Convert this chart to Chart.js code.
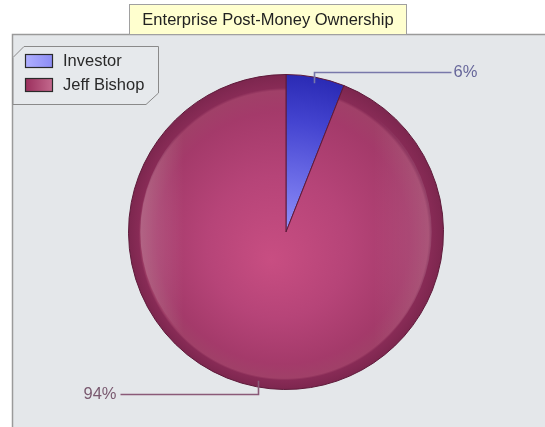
<!DOCTYPE html>
<html>
<head>
<meta charset="utf-8">
<script src="https://cdn.jsdelivr.net/npm/chart.js@4"></script>
<style>
  html, body { margin: 0; padding: 0; background: #ffffff; }
  #wrap { position: relative; width: 545px; height: 427px; }
  canvas { display: block; }
</style>
</head>
<body>
<div id="wrap"><canvas id="c" width="545" height="427"></canvas></div>
<script>
const chartTitle = 'Enterprise Post-Money Ownership';
const categories = ['Investor', 'Jeff Bishop'];
const shares = [6, 94];
const valueLabels = ['6%', '94%'];

const FONT = '"Liberation Sans", Arial, sans-serif';

function sliceFill(c, idx) {
  const chart = c.chart;
  const area = chart.chartArea;
  if (!area) return idx === 0 ? '#4444d0' : '#a03a68';
  const cx = (area.left + area.right) / 2;
  const cy = (area.top + area.bottom) / 2;
  const R = Math.min(area.right - area.left, area.bottom - area.top) / 2;
  let g;
  if (idx === 0) {
    g = chart.ctx.createRadialGradient(cx, cy, 0, cx, cy, R);
    g.addColorStop(0, '#9090fa');
    g.addColorStop(0.35, '#6a6ae6');
    g.addColorStop(0.7, '#4444d0');
    g.addColorStop(1, '#2a2ab4');
  } else {
    g = chart.ctx.createRadialGradient(cx - 15, cy + 28, 0, cx, cy, R);
    g.addColorStop(0, '#c84e82');
    g.addColorStop(0.45, '#b64478');
    g.addColorStop(0.8, '#a43a6a');
    g.addColorStop(0.91, '#a04068');
    g.addColorStop(0.925, '#882b56');
    g.addColorStop(1, '#7c264e');
  }
  return g;
}

const decor = {
  id: 'decor',
  beforeDraw(chart) {
    const ctx = chart.ctx;
    ctx.save();
    ctx.fillStyle = '#e4e7ea';
    ctx.fillRect(12.5, 34.5, 545, 400);
    ctx.strokeStyle = '#9a9a9a';
    ctx.lineWidth = 1.5;
    ctx.beginPath();
    ctx.moveTo(12.5, 430); ctx.lineTo(12.5, 34.5); ctx.lineTo(546, 34.5);
    ctx.stroke();
    ctx.fillStyle = '#ffffcf';
    ctx.fillRect(129.5, 4.5, 277, 30);
    ctx.strokeStyle = '#a0a0a0';
    ctx.lineWidth = 1;
    ctx.strokeRect(129.5, 4.5, 277, 30);
    ctx.fillStyle = '#222222';
    ctx.font = '16.5px ' + FONT;
    ctx.textAlign = 'center';
    ctx.textBaseline = 'middle';
    ctx.fillText(chartTitle, 268, 20);
    ctx.fillStyle = '#e6e9ec';
    ctx.strokeStyle = '#8a8a8a';
    ctx.beginPath();
    ctx.moveTo(13, 57.5);
    ctx.lineTo(24, 46.5);
    ctx.lineTo(158.5, 46.5);
    ctx.lineTo(158.5, 93);
    ctx.lineTo(146, 104.5);
    ctx.lineTo(13, 104.5);
    ctx.closePath();
    ctx.fill();
    ctx.stroke();
    const sw = [
      ['#b0b0ff', '#8c8cf4'],
      ['#9a2e5c', '#c46a8e']
    ];
    ctx.font = '16.5px ' + FONT;
    ctx.textAlign = 'left';
    ctx.textBaseline = 'middle';
    categories.forEach((name, i) => {
      const y = 54 + i * 24;
      const g = ctx.createLinearGradient(25, 0, 53, 0);
      g.addColorStop(0, sw[i][0]);
      g.addColorStop(1, sw[i][1]);
      ctx.fillStyle = g;
      ctx.fillRect(25.5, y + 0.5, 27, 13);
      ctx.strokeStyle = '#2a2a2a';
      ctx.lineWidth = 1.2;
      ctx.strokeRect(25.5, y + 0.5, 27, 13);
      ctx.fillStyle = '#2a2a2a';
      ctx.fillText(name, 63, y + 7.5);
    });
    ctx.restore();
  },
  afterDatasetsDraw(chart) {
    const ctx = chart.ctx;
    const meta = chart.getDatasetMeta(0);
    const arc0 = meta.data[0];
    const cx = arc0.x, cy = arc0.y, R = arc0.outerRadius;
    ctx.save();
    ctx.beginPath();
    ctx.arc(cx, cy, R * 0.925, 0, Math.PI * 2);
    ctx.clip();
    const gl = ctx.createLinearGradient(cx - R, 0, cx - R + 55, 0);
    gl.addColorStop(0, 'rgba(255,255,255,0.24)');
    gl.addColorStop(1, 'rgba(255,255,255,0)');
    ctx.fillStyle = gl;
    ctx.fillRect(cx - R, cy - R, 55, 2 * R);
    const gr = ctx.createLinearGradient(cx + R, 0, cx + R - 70, 0);
    gr.addColorStop(0, 'rgba(255,255,255,0.14)');
    gr.addColorStop(1, 'rgba(255,255,255,0)');
    ctx.fillStyle = gr;
    ctx.fillRect(cx + R - 70, cy - R, 70, 2 * R);
    ctx.restore();

    ctx.save();
    const colors = [['#7878aa', '#66669a'], ['#8a5a78', '#7a5a70']];
    meta.data.forEach((arc, i) => {
      const p = arc.getProps(['x', 'y', 'startAngle', 'endAngle', 'outerRadius'], true);
      const mid = (p.startAngle + p.endAngle) / 2;
      const ax = p.x + Math.cos(mid) * (p.outerRadius - 6);
      const ay = p.y + Math.sin(mid) * (p.outerRadius - 6);
      const up = Math.sin(mid) < 0;
      const right = Math.cos(mid) > 0;
      const ly = up ? p.y - p.outerRadius - 2 : p.y + p.outerRadius + 5;
      const lx = right ? p.x + p.outerRadius + 8 : p.x - p.outerRadius - 8;
      ctx.strokeStyle = colors[i][0];
      ctx.lineWidth = 1.6;
      ctx.beginPath();
      ctx.moveTo(Math.round(ax) + 0.5, ay);
      ctx.lineTo(Math.round(ax) + 0.5, ly);
      ctx.lineTo(lx, ly);
      ctx.stroke();
      ctx.fillStyle = colors[i][1];
      ctx.font = '16.5px ' + FONT;
      ctx.textBaseline = 'middle';
      ctx.textAlign = right ? 'left' : 'right';
      ctx.fillText(valueLabels[i], right ? lx + 2 : lx - 4, ly);
    });
    ctx.restore();
  }
};

new Chart(document.getElementById('c'), {
  type: 'pie',
  data: {
    labels: categories,
    datasets: [{
      data: shares,
      backgroundColor: (c) => sliceFill(c, c.dataIndex),
      borderColor: '#5e1a3a',
      borderWidth: 1
    }]
  },
  options: {
    responsive: false,
    animation: false,
    events: [],
    layout: { padding: { left: 128, right: 101, top: 74, bottom: 37 } },
    plugins: {
      legend: { display: false },
      title: { display: false },
      tooltip: { enabled: false }
    }
  },
  plugins: [decor]
});
</script>
</body>
</html>
